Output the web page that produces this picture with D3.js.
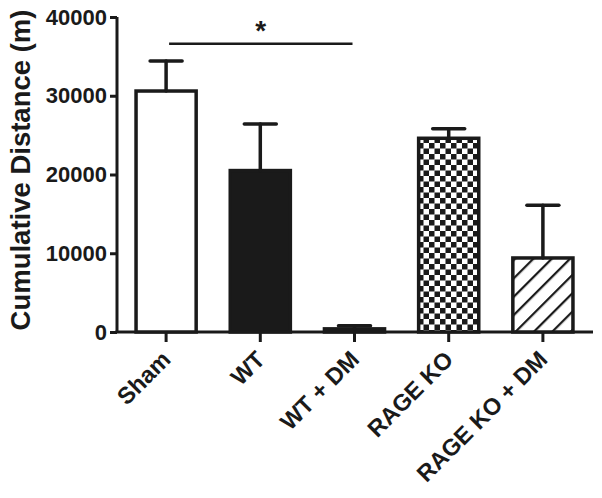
<!DOCTYPE html>
<html>
<head>
<meta charset="utf-8">
<script src="https://cdn.jsdelivr.net/npm/d3@7"></script>
<style>
  body { margin: 0; background: #fff; }
  text { font-family: "Liberation Sans", Arial, sans-serif; font-weight: bold; fill: #1a1a1a; }
</style>
</head>
<body>
<svg id="chart"></svg>
<script>
// data
const groups = ['Sham', 'WT', 'WT + DM', 'RAGE KO', 'RAGE KO + DM']
const means  = [30600, 20500, 400, 24600, 9400]
const sems   = [3800, 5900, 400, 1200, 6700]
const fills  = ['white', 'black', 'black', 'checker', 'hatch']
const yTicks = [0, 10000, 20000, 30000, 40000]
// significance bracket: between groups, at this height, with label
const sigPair = ['Sham', 'WT + DM']
const sigLevel = 36600
const sigLabel = '*'

const width = 602, height = 498
const ink = '#1a1a1a'

let svg = d3.select('#chart')
    .attr('width', width)
    .attr('height', height)

// patterns
let defs = svg.append('defs')
let checker = defs.append('pattern')
    .attr('id', 'checker')
    .attr('patternUnits', 'userSpaceOnUse')
    .attr('width', 11).attr('height', 11)
checker.append('rect').attr('width', 11).attr('height', 11).attr('fill', '#fff')
checker.append('rect').attr('width', 5.5).attr('height', 5.5).attr('fill', ink)
checker.append('rect').attr('x', 5.5).attr('y', 5.5).attr('width', 5.5).attr('height', 5.5).attr('fill', ink)

let hatch = defs.append('pattern')
    .attr('id', 'hatch')
    .attr('patternUnits', 'userSpaceOnUse')
    .attr('width', 13).attr('height', 13)
    .attr('patternTransform', 'rotate(45)')
hatch.append('rect').attr('width', 13).attr('height', 13).attr('fill', '#fff')
hatch.append('line')
    .attr('x1', 0).attr('y1', 0).attr('x2', 0).attr('y2', 13)
    .attr('stroke', ink).attr('stroke-width', 4.5)

const fillFor = (f) => {
    if (f === 'white') return '#fff'
    if (f === 'black') return ink
    return 'url(#' + f + ')'
}

// scales
let x = d3.scaleBand()
    .domain(groups)
    .range([119, 590])
    .paddingInner(0.33)
    .paddingOuter(0.165)

let y = d3.scaleLinear()
    .domain([0, 40000])
    .range([332, 17])

// axes
let yAxis = svg.append('g')
    .attr('transform', 'translate(117,0)')
    .call(d3.axisLeft(y).tickValues(yTicks).tickSize(7).tickPadding(3).tickFormat(d3.format('d')))
yAxis.select('.domain').attr('stroke', ink).attr('stroke-width', 3)
    .attr('d', 'M0,' + y(40000) + 'V' + y(0))
yAxis.selectAll('.tick line').attr('stroke', ink).attr('stroke-width', 3)
yAxis.selectAll('.tick text').attr('font-size', 22).style('font-weight', 'bold')

let xAxis = svg.append('g')
    .attr('transform', 'translate(0,' + y(0) + ')')
    .call(d3.axisBottom(x).tickSize(10).tickPadding(6))
xAxis.select('.domain').attr('stroke', ink).attr('stroke-width', 3)
    .attr('d', 'M115.5,0H593')
xAxis.selectAll('.tick line').attr('stroke', ink).attr('stroke-width', 3)
xAxis.selectAll('.tick text')
    .attr('font-size', 23.5)
    .style('font-weight', 'bold')
    .attr('text-anchor', 'end')
    .attr('dy', 0)
    .attr('transform', 'translate(6,29) rotate(-45)')
    .attr('y', 0)

// bars
let bars = svg.append('g')
bars.selectAll('rect')
    .data(groups)
    .enter().append('rect')
    .attr('x', (d) => x(d) + 1.5)
    .attr('y', (d, i) => y(means[i]))
    .attr('width', x.bandwidth() - 3)
    .attr('height', (d, i) => y(0) - y(means[i]))
    .attr('fill', (d, i) => fillFor(fills[i]))
    .attr('stroke', ink)
    .attr('stroke-width', 3.5)

// error bars (upper only)
let err = svg.append('g')
    .attr('stroke', ink)
    .attr('stroke-width', 3.5)
    .attr('stroke-linecap', 'round')
groups.forEach((g, i) => {
    let cx = x(g) + x.bandwidth() / 2
    err.append('line')
        .attr('x1', cx).attr('x2', cx)
        .attr('y1', y(means[i])).attr('y2', y(means[i] + sems[i]))
    err.append('line')
        .attr('x1', cx - 16).attr('x2', cx + 16)
        .attr('y1', y(means[i] + sems[i])).attr('y2', y(means[i] + sems[i]))
})

// significance bracket
let sx1 = x(sigPair[0]) + x.bandwidth() / 2 + 3
let sx2 = x(sigPair[1]) + x.bandwidth() / 2 - 2
svg.append('line')
    .attr('x1', sx1).attr('x2', sx2)
    .attr('y1', y(sigLevel)).attr('y2', y(sigLevel))
    .attr('stroke', ink).attr('stroke-width', 2.5)
svg.append('text')
    .attr('x', (sx1 + sx2) / 2)
    .attr('y', y(sigLevel) - 4)
    .attr('text-anchor', 'middle')
    .attr('font-size', 28)
    .text(sigLabel)

// y axis title
svg.append('text')
    .attr('transform', 'translate(30,170) rotate(-90)')
    .attr('text-anchor', 'middle')
    .attr('font-size', 27.5)
    .text('Cumulative Distance (m)')
</script>
</body>
</html>
